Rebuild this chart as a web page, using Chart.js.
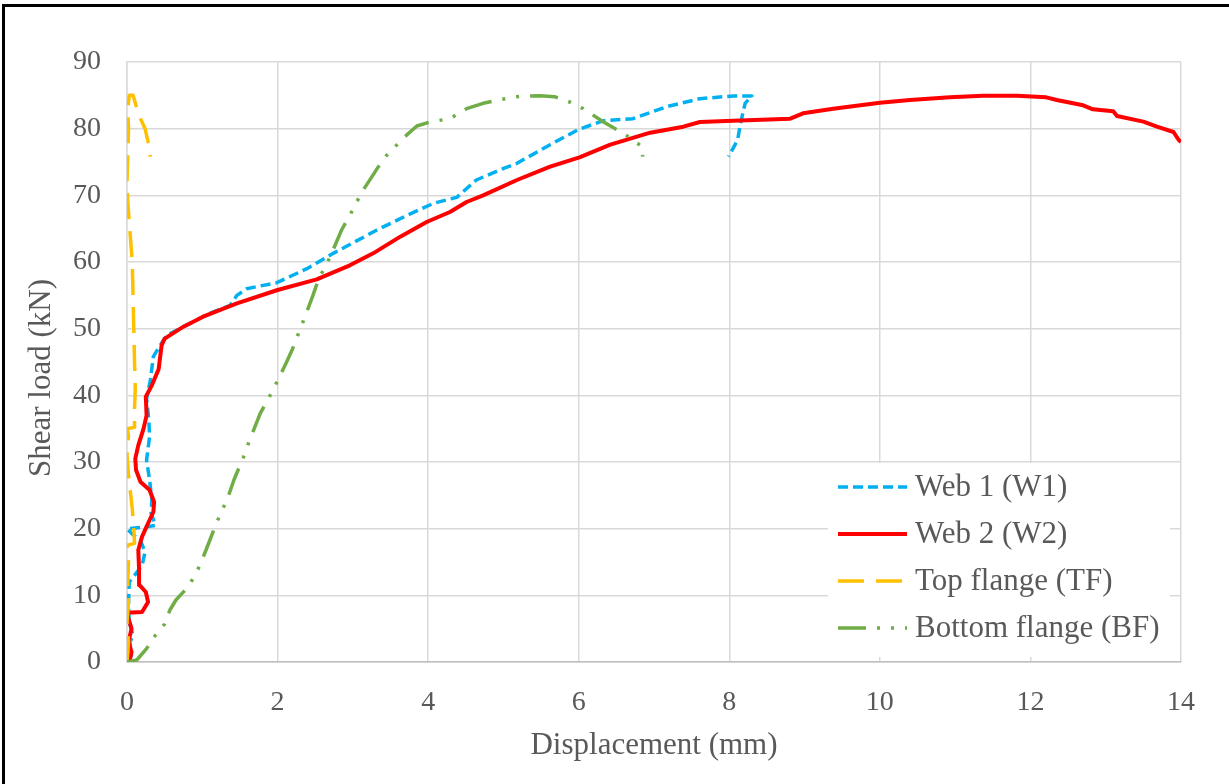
<!DOCTYPE html>
<html>
<head>
<meta charset="utf-8">
<title>Shear load vs displacement</title>
<script src="https://cdn.jsdelivr.net/npm/chart.js@4.4.1/dist/chart.umd.min.js"></script>
<style>
  html, body { margin: 0; padding: 0; background: #fff; overflow: hidden; }
  #frame { position: absolute; left: 2px; top: 4px; width: 1300px; height: 900px; border: 3px solid #000; }
  #plot { position: absolute; left: 0; top: 0; }
</style>
</head>
<body>
<div id="frame"></div>
<canvas id="plot" width="1229" height="784"></canvas>
<script>
// Web 1 (W1)
const w1X = [0.02, 0.06, 0.04, 0.08, 0.03, 0.02, 0.03, 0.10, 0.20, 0.24, 0.18, 0.06, 0.00, 0.20, 0.38, 0.32, 0.33, 0.30, 0.26, 0.30,
  0.29, 0.26, 0.31, 0.35, 0.44, 0.53, 0.75, 1.10, 1.37, 1.46, 1.59, 1.99, 2.39, 2.74, 3.32, 3.72, 4.07, 4.38, 4.64, 4.95,
  5.18, 5.62, 6.00, 6.33, 6.72, 7.17, 7.61, 8.05, 8.30, 8.21, 8.15, 8.11, 7.99];
const w1Y = [0, 1, 3, 4, 6, 8.5, 12, 13, 14.5, 16.5, 18.2, 19.3, 20, 20.2, 20.5, 22.3, 24.3, 27.3, 30.3, 33.8,
  36.3, 39.5, 42.3, 45.8, 47.5, 49, 50.3, 52.3, 53.5, 55, 56, 56.9, 59, 61.3, 64.8, 67, 68.8, 69.7, 72.3, 73.8,
  74.8, 77.6, 79.9, 81.2, 81.5, 83.3, 84.5, 84.9, 84.9, 83.8, 80.8, 78.3, 75.8];

// Web 2 (W2)
const w2X = [0.03, 0.06, 0.02, 0.06, 0.02, 0.00, 0.20, 0.28, 0.25, 0.17, 0.16, 0.15, 0.20, 0.30, 0.35, 0.36, 0.30, 0.18, 0.12, 0.11,
  0.15, 0.22, 0.26, 0.25, 0.33, 0.42, 0.46, 0.50, 0.75, 1.01, 1.46, 2.00, 2.52, 2.96, 3.27, 3.63, 3.98, 4.29, 4.51, 4.73,
  5.18, 5.62, 6.01, 6.42, 6.95, 7.39, 7.61, 8.05, 8.81, 8.98, 9.38, 10.00, 10.40, 10.93, 11.37, 11.82, 12.21, 12.35, 12.70, 12.83,
  13.10, 13.15, 13.50, 13.68, 13.90, 13.97, 14.00];
const w2Y = [0, 1.5, 3, 5, 6.5, 7.4, 7.5, 9, 10.5, 11.5, 14, 16.8, 18.8, 21.3, 22.5, 24, 25.8, 27, 28.8, 30.5,
  32.5, 35, 37, 39.8, 41.5, 43.9, 47.5, 48.5, 50.3, 51.8, 53.8, 55.8, 57.4, 59.5, 61.3, 63.8, 66, 67.5, 69, 70,
  72.3, 74.3, 75.7, 77.6, 79.4, 80.3, 81, 81.2, 81.5, 82.3, 83, 83.9, 84.3, 84.7, 84.95, 84.95, 84.7, 84.3, 83.5, 82.9,
  82.6, 81.9, 81.05, 80.3, 79.5, 78.3, 78];

// Top flange (TF)
const tfX = [0.00, 0.02, 0.00, 0.02, 0.01, 0.02, 0.00, 0.10, 0.09, 0.07, 0.04, 0.02, 0.00, 0.02, 0.00, 0.10, 0.10, 0.11, 0.10, 0.09,
  0.08, 0.07, 0.05, 0.03, 0.01, 0.00, 0.01, 0.02, 0.01, 0.03, 0.08, 0.12, 0.18, 0.24, 0.27, 0.30, 0.31];
const tfY = [0, 3, 6, 9, 12, 15, 17.5, 17.8, 20, 23, 26, 28, 31, 34, 35, 35.2, 38, 41, 45, 50,
  55, 60, 63, 66, 69, 72, 76, 80, 83, 85, 85, 83.5, 81.5, 80, 78.5, 77, 75.8];

// Bottom flange (BF)
const bfX = [0.00, 0.13, 0.26, 0.37, 0.50, 0.57, 0.65, 0.79, 0.90, 0.98, 1.06, 1.19, 1.27, 1.35, 1.42, 1.55, 1.62, 1.77, 1.94, 2.12,
  2.20, 2.33, 2.47, 2.54, 2.70, 2.85, 2.96, 3.12, 3.34, 3.45, 3.69, 3.85, 4.02, 4.29, 4.51, 4.73, 4.93, 5.18, 5.49, 5.68,
  5.88, 6.06, 6.33, 6.53, 6.70, 6.84, 6.85];
const bfY = [0, 0.3, 2, 3.9, 5.7, 7.8, 9.3, 11, 12.9, 14.8, 17.1, 20.9, 22.9, 25, 27.3, 30.8, 33, 37.3, 40.8, 45,
  47, 50.8, 55, 57.3, 60.8, 64.8, 67, 70.5, 74.3, 76, 78.8, 80.4, 81, 81.5, 83, 83.8, 84.3, 84.8, 84.95, 84.8,
  84, 83, 81, 79.7, 78.5, 77.3, 75.8];

const seriesNames = ['Web 1 (W1)', 'Web 2 (W2)', 'Top flange (TF)', 'Bottom flange (BF)'];
const xTicks = [0, 2, 4, 6, 8, 10, 12, 14];
const yTicks = [0, 10, 20, 30, 40, 50, 60, 70, 80, 90];

const TEXT = '#595959';
const SERIF = "'Liberation Serif', 'Times New Roman', serif";

function pairs(xs, ys) {
  return xs.map((x, i) => ({ x: x, y: ys[i] }));
}

function line(label, xs, ys, color, dash, width, order) {
  return {
    label: label,
    data: pairs(xs, ys),
    showLine: true,
    borderColor: color,
    backgroundColor: color,
    borderWidth: width,
    borderDash: dash,
    borderCapStyle: 'butt',
    borderJoinStyle: 'round',
    pointRadius: 0,
    tension: 0,
    order: order
  };
}

// legend sitting in the lower right corner of the plot area
const cornerLegend = {
  id: 'cornerLegend',
  afterDatasetsDraw(chart) {
    const { ctx, chartArea } = chart;
    const boxW = 342, boxH = 194;
    const left = chartArea.right - 11 - boxW;
    const top = chartArea.bottom - 5 - boxH;
    ctx.save();
    ctx.fillStyle = '#fff';
    ctx.fillRect(left, top, boxW, boxH);
    ctx.font = '31px ' + SERIF;
    ctx.fillStyle = TEXT;
    ctx.textBaseline = 'middle';
    chart.data.datasets.forEach((ds, i) => {
      const y = top + 24 + i * 47;
      ctx.strokeStyle = ds.borderColor;
      ctx.lineWidth = ds.borderWidth;
      ctx.lineCap = 'butt';
      ctx.setLineDash(ds.borderDash || []);
      ctx.beginPath();
      ctx.moveTo(left + 10, y);
      ctx.lineTo(left + 79, y);
      ctx.stroke();
      ctx.setLineDash([]);
      ctx.fillText(ds.label, left + 87, y + 1);
    });
    ctx.restore();
  }
};

const axisTitles = {
  id: 'axisTitles',
  afterDraw(chart) {
    const { ctx, chartArea } = chart;
    ctx.save();
    ctx.font = '31px ' + SERIF;
    ctx.fillStyle = TEXT;
    ctx.textAlign = 'center';
    ctx.textBaseline = 'middle';
    ctx.fillText('Displacement (mm)', (chartArea.left + chartArea.right) / 2, 746);
    ctx.translate(42, 378);
    ctx.rotate(-Math.PI / 2);
    ctx.fillText('Shear load (kN)', 0, 0);
    ctx.restore();
  }
};

const ctx = document.getElementById('plot');
new Chart(ctx, {
  type: 'scatter',
  data: {
    datasets: [
      line(seriesNames[0], w1X, w1Y, '#00B0F0', [10, 5], 3.5, 3),
      line(seriesNames[1], w2X, w2Y, '#FF0000', [], 4, 2),
      line(seriesNames[2], tfX, tfY, '#FFC000', [26, 12], 3.5, 1),
      line(seriesNames[3], bfX, bfY, '#70AD47', [28, 11, 3, 11, 3, 11], 3.5, 0)
    ]
  },
  options: {
    responsive: false,
    animation: false,
    layout: { padding: { top: 62, right: 48, left: 0, bottom: 0 } },
    plugins: {
      legend: { display: false },
      tooltip: { enabled: false }
    },
    scales: {
      x: {
        type: 'linear',
        min: 0,
        max: 14,
        afterBuildTicks: (scale) => { scale.ticks = xTicks.map(v => ({ value: v })); },
        afterFit: (scale) => { scale.height = 122; },
        ticks: { padding: 24, color: TEXT, font: { family: SERIF, size: 28 } },
        grid: { color: '#d9d9d9', lineWidth: 1.5, drawTicks: false },
        border: { color: '#bfbfbf', width: 1.5 }
      },
      y: {
        type: 'linear',
        min: 0,
        max: 90,
        afterBuildTicks: (scale) => { scale.ticks = yTicks.map(v => ({ value: v })); },
        afterFit: (scale) => { scale.width = 127; },
        ticks: { padding: 26, color: TEXT, font: { family: SERIF, size: 28 } },
        grid: { color: '#d9d9d9', lineWidth: 1.5, drawTicks: false },
        border: { color: '#d9d9d9', width: 1.5 }
      }
    }
  },
  plugins: [cornerLegend, axisTitles]
});
</script>
</body>
</html>
